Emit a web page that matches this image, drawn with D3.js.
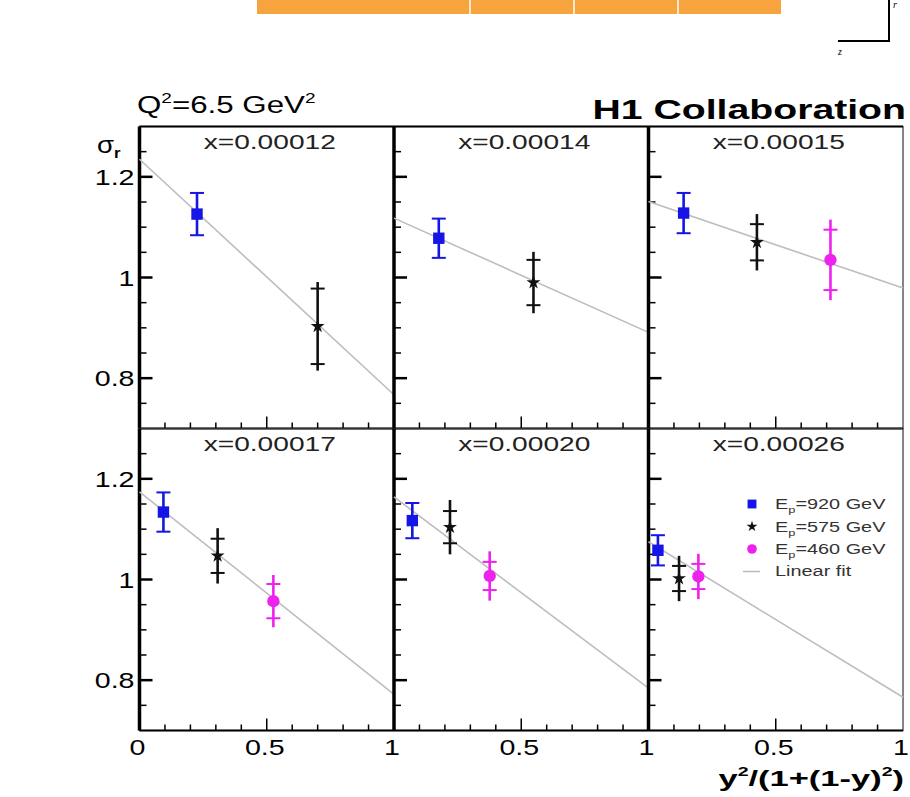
<!DOCTYPE html>
<html>
<head>
<meta charset="utf-8">
<title>H1 reduced cross section</title>
<script src="https://cdnjs.cloudflare.com/ajax/libs/d3/7.8.5/d3.min.js"></script>
<style>
  body { margin: 0; background: #fff; }
  text { font-family: "Liberation Sans", Arial, sans-serif; }
</style>
</head>
<body>
<script>
// panel titles (x bins), row-major order
var xBins = ["x=0.00012", "x=0.00014", "x=0.00015", "x=0.00017", "x=0.00020", "x=0.00026"];

// linear fit: sigma_r at y-variable 0 and 1
var fitAt0 = [1.235, 1.118, 1.151, 1.174, 1.164, 1.075];
var fitAt1 = [0.767, 0.891, 0.979, 0.772, 0.784, 0.766];

// points: panel, position, sigma_r, stat error, total error
var ep920 = [
    { p: 0, v: 0.226, s: 1.126, stat: 0.042, tot: 0.042 },
    { p: 1, v: 0.176, s: 1.078, stat: 0.039, tot: 0.039 },
    { p: 2, v: 0.138, s: 1.128, stat: 0.040, tot: 0.040 },
    { p: 3, v: 0.094, s: 1.134, stat: 0.039, tot: 0.039 },
    { p: 4, v: 0.072, s: 1.117, stat: 0.035, tot: 0.035 },
    { p: 5, v: 0.037, s: 1.058, stat: 0.030, tot: 0.030 }];
var ep575 = [
    { p: 0, v: 0.700, s: 0.903, stat: 0.075, tot: 0.088 },
    { p: 1, v: 0.548, s: 0.990, stat: 0.045, tot: 0.061 },
    { p: 2, v: 0.426, s: 1.070, stat: 0.036, tot: 0.056 },
    { p: 3, v: 0.307, s: 1.047, stat: 0.034, tot: 0.055 },
    { p: 4, v: 0.220, s: 1.104, stat: 0.032, tot: 0.054 },
    { p: 5, v: 0.120, s: 1.002, stat: 0.025, tot: 0.045 }];
var ep460 = [
    { p: 2, v: 0.715, s: 1.035, stat: 0.060, tot: 0.080 },
    { p: 3, v: 0.526, s: 0.957, stat: 0.034, tot: 0.052 },
    { p: 4, v: 0.376, s: 1.007, stat: 0.028, tot: 0.049 },
    { p: 5, v: 0.196, s: 1.006, stat: 0.025, tot: 0.045 }];

var yTicks = [0.8, 1.0, 1.2];
var xTicksLabel = [0.5, 1];

var W = 910, H = 797;
var plotLeft = 139.5, plotTop = 126.5, colW = 254.5, rowH = 302;
var SX = 1.36;   // the source figure is stretched sideways

var svg = d3.select("body").append("svg")
    .attr("width", W).attr("height", H);

// text placed at (x, y), widened by sx
function label(x, y, size, anchor, sx) {
    return svg.append("g")
        .attr("transform", "translate(" + x + "," + y + ") scale(" + (sx || SX) + ",1)")
        .append("text").attr("font-size", size).attr("text-anchor", anchor || "start");
}

// piece of the figure above (cropped detector drawing)
var barEdges = [257, 470, 574, 678, 781];
svg.append("rect").attr("x", barEdges[0]).attr("y", 0)
    .attr("width", barEdges[4] - barEdges[0]).attr("height", 14)
    .attr("fill", "#f7a43f");
barEdges.slice(1, 4).forEach(function(e) {
    svg.append("line").attr("x1", e).attr("x2", e).attr("y1", 0).attr("y2", 14)
        .attr("stroke", "#fff").attr("stroke-width", 1.5);
});
svg.append("path").attr("d", "M889,0 V41 H838").attr("fill", "none")
    .attr("stroke", "#000").attr("stroke-width", 2);
svg.append("text").attr("x", 893).attr("y", 8).attr("font-size", 10)
    .attr("font-style", "italic").style("font-family", "Liberation Serif").text("r");
svg.append("text").attr("x", 838).attr("y", 55).attr("font-size", 10)
    .attr("font-style", "italic").style("font-family", "Liberation Serif").text("z");

// headers
var q = label(137, 113, 23);
q.append("tspan").text("Q");
q.append("tspan").attr("font-size", 14).attr("dy", -10).text("2");
q.append("tspan").attr("dy", 10).text("=6.5 GeV");
q.append("tspan").attr("font-size", 14).attr("dy", -10).text("2");

label(906, 119, 28, "end", 1.4).attr("font-weight", "bold").text("H1 Collaboration");

var sg = label(97, 153, 23, "start", 1.2);
sg.append("tspan").text("σ");
sg.append("tspan").attr("font-size", 14).attr("font-weight", "bold").attr("dy", 5).text("r");

var xt = label(904, 786, 23, "end", 1.5).attr("font-weight", "bold");
xt.append("tspan").text("y");
xt.append("tspan").attr("font-size", 13).attr("dy", -10).text("2");
xt.append("tspan").attr("dy", 10).text("/(1+(1-y)");
xt.append("tspan").attr("font-size", 13).attr("dy", -10).text("2");
xt.append("tspan").attr("dy", 10).text(")");

function scales(p) {
    var col = p % 3, row = Math.floor(p / 3);
    var x0 = plotLeft + col * colW, y0 = plotTop + row * rowH;
    return {
        x: d3.scaleLinear().domain([0, 1]).range([x0, x0 + colW]),
        y: d3.scaleLinear().domain([0.7, 1.3]).range([y0 + rowH, y0]),
        col: col, row: row
    };
}

xBins.forEach(function(name, p) {
    var s = scales(p);
    var g = svg.append("g");
    var xr = s.x.range(), yr = s.y.range();

    // frame
    g.append("rect").attr("x", xr[0]).attr("y", yr[1])
        .attr("width", xr[1] - xr[0]).attr("height", yr[0] - yr[1])
        .attr("fill", "none").attr("stroke", "#333").attr("stroke-width", 1.2);

    // y ticks (inward)
    d3.range(0.75, 1.2501, 0.05).forEach(function(t) {
        var major = yTicks.some(function(m) { return Math.abs(m - t) < 1e-6; });
        g.append("line").attr("x1", xr[0]).attr("x2", xr[0] + (major ? 13 : 7))
            .attr("y1", s.y(t)).attr("y2", s.y(t))
            .attr("stroke", "#000").attr("stroke-width", major ? 2.5 : 1.5);
    });
    // x ticks (inward)
    d3.range(0.1, 0.95, 0.1).forEach(function(t) {
        var major = Math.abs(t - 0.5) < 1e-6;
        g.append("line").attr("x1", s.x(t)).attr("x2", s.x(t))
            .attr("y1", yr[0]).attr("y2", yr[0] - (major ? 12 : 6))
            .attr("stroke", "#000").attr("stroke-width", 1.5);
    });

    // axes lines
    g.append("line").attr("x1", xr[0]).attr("x2", xr[0]).attr("y1", yr[1]).attr("y2", yr[0])
        .attr("stroke", "#000").attr("stroke-width", 3.5);
    g.append("line").attr("x1", xr[0]).attr("x2", xr[1]).attr("y1", yr[0]).attr("y2", yr[0])
        .attr("stroke", "#000").attr("stroke-width", 2);
    if (s.row === 0)
        g.append("line").attr("x1", xr[0]).attr("x2", xr[1]).attr("y1", yr[1]).attr("y2", yr[1])
            .attr("stroke", "#000").attr("stroke-width", 2);

    // y tick labels on first column
    if (s.col === 0) {
        yTicks.forEach(function(t) {
            label(xr[0] - 5, s.y(t) + 8, 22, "end", 1.3)
                .text(t === 1 ? "1" : d3.format(".1f")(t));
        });
    }
    // x tick labels on bottom row
    if (s.row === 1) {
        if (s.col === 0)
            label(s.x(0) - 2, 755, 22, "middle", 1.3).text("0");
        xTicksLabel.forEach(function(t) {
            label(s.x(t) - 2, 755, 22, "middle", 1.3).text(t === 1 ? "1" : "0.5");
        });
    }

    // panel title
    label((xr[0] + xr[1]) / 2 + 3, yr[1] + 22, 21, "middle", 1.34)
        .attr("fill", "#222").text(name);

    // linear fit
    g.append("line").attr("x1", s.x(0)).attr("y1", s.y(fitAt0[p]))
        .attr("x2", s.x(1)).attr("y2", s.y(fitAt1[p]))
        .attr("stroke", "#bdbdbd").attr("stroke-width", 1.6);
});

function drawSeries(data, color, shape) {
    data.forEach(function(d) {
        var s = scales(d.p);
        var cx = s.x(d.v), cy = s.y(d.s);
        var g = svg.append("g");
        g.append("line").attr("x1", cx).attr("x2", cx)
            .attr("y1", s.y(d.s + d.tot)).attr("y2", s.y(d.s - d.tot))
            .attr("stroke", color).attr("stroke-width", 2.6);
        [d.s + d.stat, d.s - d.stat].forEach(function(e) {
            g.append("line").attr("x1", cx - 7).attr("x2", cx + 7)
                .attr("y1", s.y(e)).attr("y2", s.y(e))
                .attr("stroke", color).attr("stroke-width", 2);
        });
        g.append("path").attr("transform", "translate(" + cx + "," + cy + ")")
            .attr("d", d3.symbol().type(shape.type).size(shape.size)())
            .attr("fill", color);
    });
}

var sq = { type: d3.symbolSquare, size: 130 };
var st = { type: d3.symbolStar, size: 60 };
var ci = { type: d3.symbolCircle, size: 120 };
drawSeries(ep920, "#1515e6", sq);
drawSeries(ep575, "#111", st);
drawSeries(ep460, "#ee22ee", ci);

// legend in last panel
var legend = [
    { label: "920", color: "#1515e6", shape: sq },
    { label: "575", color: "#111", shape: st },
    { label: "460", color: "#ee22ee", shape: ci }];
legend.forEach(function(l, i) {
    var ly = 504 + i * 22.5;
    svg.append("path").attr("transform", "translate(752," + ly + ")")
        .attr("d", d3.symbol().type(l.shape.type).size(l.shape.size * 0.6)())
        .attr("fill", l.color);
    var t = label(775, ly + 5, 14, "start", 1.42).attr("fill", "#333");
    t.append("tspan").text("E");
    t.append("tspan").attr("font-size", 9).attr("dy", 4).text("p");
    t.append("tspan").attr("dy", -4).text("=" + l.label + " GeV");
});
svg.append("line").attr("x1", 743).attr("x2", 760).attr("y1", 571.5).attr("y2", 571.5)
    .attr("stroke", "#bdbdbd").attr("stroke-width", 1.6);
label(775, 576, 14, "start", 1.42).attr("fill", "#333").text("Linear fit");
</script>
</body>
</html>
